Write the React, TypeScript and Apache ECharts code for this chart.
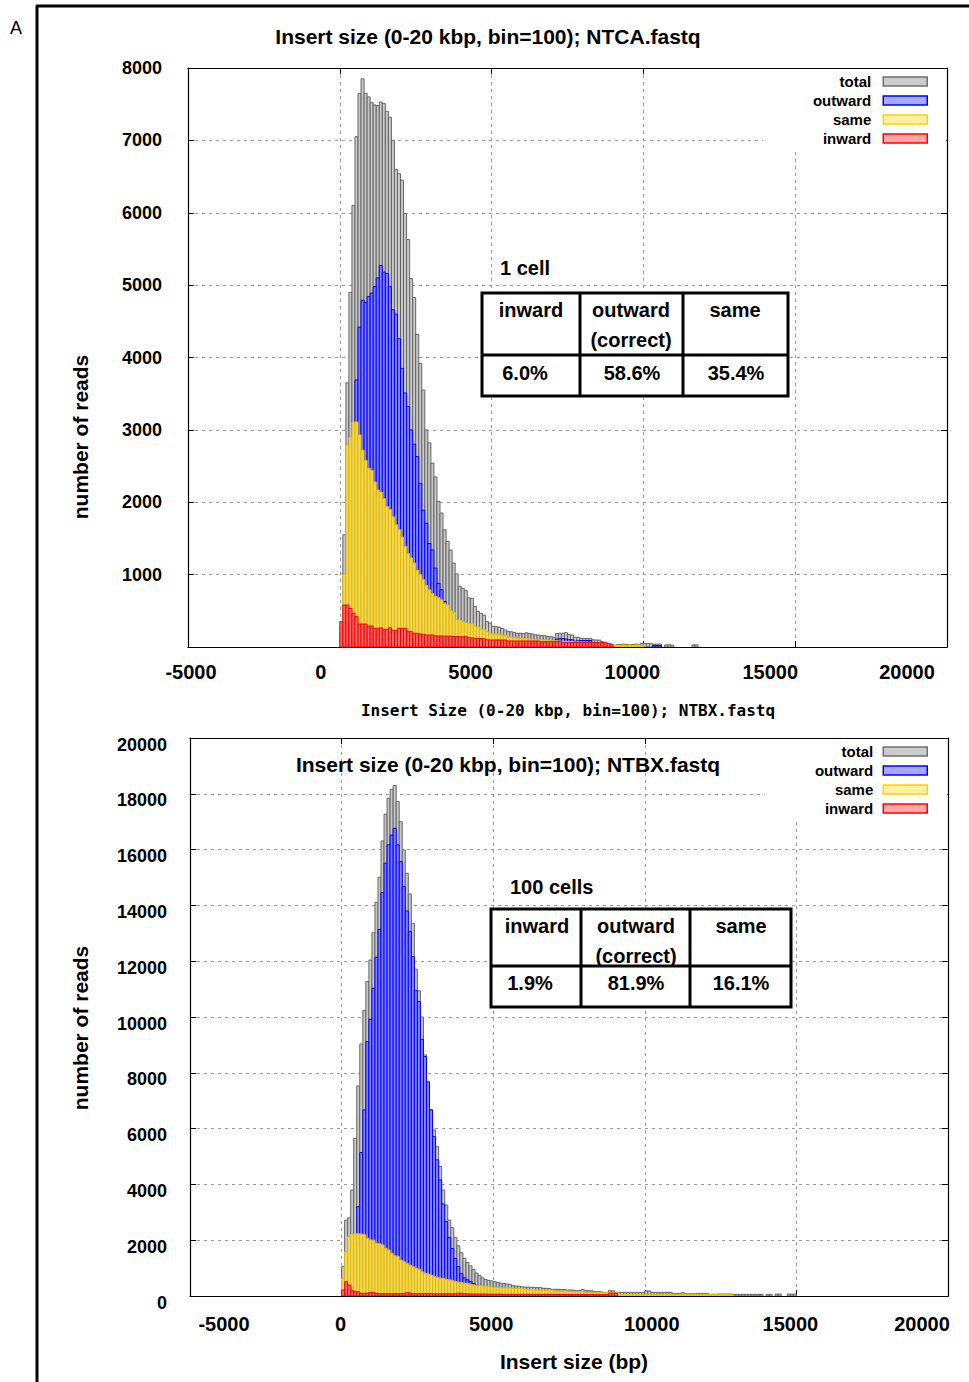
import React, { useEffect, useRef } from 'react';
import * as echarts from 'echarts';

// ---------- data ----------
const binWidth = 100;
const xTicks = [-5000, 0, 5000, 10000, 15000, 20000];
const seriesNames = ['total', 'outward', 'same', 'inward'];

// NTCA.fastq (1 cell), counts per 100 bp bin starting at 0
const totalA = [
  200, 1550, 3650, 4900, 6100, 7050, 7650, 7850, 7650, 7600,
  7520, 7490, 7480, 7530, 7510, 7400, 7320, 7000, 6600, 6540,
  6450, 5990, 5630, 5090, 4830, 4320, 3920, 3550, 3000, 2820,
  2540, 2350, 2010, 1850, 1620, 1460, 1340, 1160, 1010, 840,
  810, 780, 680, 670, 560, 490, 465, 440, 350, 330,
  285, 280, 275, 258, 235, 215, 210, 198, 190, 190,
  188, 195, 185, 180, 168, 165, 157, 155, 145, 143,
  134, 185, 190, 190, 198, 170, 166, 135, 134, 120,
  120, 118, 120, 100, 97, 95, 74, 51, 20, 25,
  20, 35, 35, 40, 35, 30, 35, 40, 35, 50,
  50, 50, 45, 40, 40, 40, 0, 30, 30, 25,
  0, 0, 0, 0, 0, 0, 30, 30, 0, 0,
];
const outwardA = [
  0, 300, 900, 1800, 2600, 3690, 4420, 4790, 4760, 4840,
  4890, 4980, 5100, 5270, 5180, 5160, 4980, 4660, 4600, 4260,
  3850, 3510, 3320, 3000, 2800, 2630, 2260, 1890, 1710, 1430,
  1340, 1090, 880, 790, 630, 500, 420, 380, 320, 290,
  250, 230, 200, 180, 150, 130, 110, 100, 90, 80,
  70, 65, 60, 55, 50, 48, 45, 42, 40, 40,
  40, 40, 40, 40, 38, 36, 35, 35, 35, 40,
  50, 110, 115, 115, 110, 100, 100, 80, 85, 90,
  90, 90, 90, 40, 40, 35, 30, 20, 0, 0,
  0, 0, 0, 0, 0, 0, 0, 0, 0, 0,
  0, 0, 0, 20, 20, 20, 0, 0, 0, 0,
];
const sameA = [
  280, 1000, 2790, 2900, 3110, 3110, 2930, 2720, 2580, 2470,
  2440, 2280, 2170, 2140, 2050, 1940, 1900, 1800, 1690, 1620,
  1520, 1390, 1290, 1230, 1160, 1060, 1000, 930, 850, 790,
  740, 700, 680, 650, 600, 580, 500, 480, 380, 370,
  350, 340, 327, 320, 285, 280, 250, 245, 212, 185,
  180, 178, 175, 166, 160, 135, 134, 130, 122, 120,
  118, 115, 108, 106, 105, 104, 98, 97, 95, 88,
  87, 86, 80, 79, 78, 77, 76, 70, 70, 69,
  69, 60, 60, 60, 60, 60, 50, 50, 25, 28,
  25, 28, 25, 28, 25, 28, 25, 25, 28, 25,
];
const inwardA = [
  350, 580, 580, 534, 465, 419, 318, 318, 318, 290,
  290, 258, 258, 265, 244, 244, 265, 230, 225, 258,
  258, 258, 212, 212, 189, 189, 180, 175, 166, 166,
  166, 155, 152, 152, 150, 150, 150, 145, 143, 143,
  140, 143, 130, 125, 120, 120, 118, 115, 100, 97,
  97, 97, 97, 97, 97, 83, 83, 83, 83, 83,
  83, 83, 83, 83, 83, 83, 74, 74, 74, 74,
  74, 74, 74, 60, 60, 60, 60, 60, 60, 60,
  60, 60, 60, 60, 60, 60, 60, 60, 50, 40,
];

// NTBX.fastq (100 cells)
const totalB = [
  1050, 2720, 2800, 3800, 5650, 7530, 9030, 10230, 11270, 12040,
  13020, 14110, 15010, 16310, 17270, 17840, 18160, 18300, 17720, 17000,
  15990, 15150, 14410, 13360, 11710, 10940, 10000, 8640, 7620, 6670,
  5950, 5350, 4640, 3800, 3260, 2720, 2450, 2100, 1800, 1550,
  1350, 1200, 1080, 950, 820, 730, 650, 590, 560, 540,
  510, 490, 460, 450, 430, 420, 370, 360, 350, 330,
  320, 320, 310, 310, 300, 300, 275, 275, 270, 240,
  240, 240, 235, 235, 215, 215, 210, 190, 190, 235,
  190, 190, 185, 155, 155, 150, 120, 120, 190, 185,
  130, 130, 130, 130, 130, 130, 130, 130, 130, 130,
  185, 180, 130, 130, 130, 130, 130, 130, 130, 95,
  95, 95, 120, 80, 80, 80, 80, 95, 95, 95,
  95, 60, 60, 60, 70, 70, 70, 70, 70, 60,
  60, 60, 60, 60, 60, 60, 60, 60, 60, 0,
  60, 60, 0, 70, 70, 0, 0, 70, 70, 70,
];
const outwardB = [
  0, 200, 400, 600, 1500, 3200, 5140, 6670, 9120, 9920,
  11030, 12140, 13140, 14460, 15510, 16170, 16520, 16760, 16170, 15570,
  14670, 13800, 13060, 12160, 10940, 10550, 9200, 8580, 7680, 6670,
  5710, 4880, 4160, 3300, 2660, 2100, 1700, 1350, 1050, 800,
  650, 580, 520, 450, 380, 330, 290, 260, 230, 200,
  180, 160, 150, 140, 130, 120, 110, 100, 90, 80,
  70, 70, 65, 60, 60, 55, 50, 50, 45, 45,
  40, 40, 40, 40, 35, 35, 35, 35, 35, 35,
  60, 60, 60, 60, 30, 30, 30, 30, 30, 30,
  20, 20, 20, 20, 20, 20, 20, 20, 20, 20,
];
const sameB = [
  630, 1590, 2130, 2220, 2230, 2230, 2220, 2200, 2070, 2010,
  2000, 1890, 1870, 1830, 1710, 1650, 1530, 1440, 1420, 1290,
  1230, 1170, 1110, 1050, 1000, 960, 870, 820, 790, 750,
  700, 670, 640, 630, 600, 580, 550, 520, 500, 480,
  460, 450, 420, 400, 380, 370, 360, 350, 340, 320,
  310, 305, 300, 295, 290, 290, 270, 270, 270, 270,
  240, 240, 240, 240, 215, 215, 215, 215, 215, 215,
  180, 180, 180, 180, 180, 155, 155, 155, 155, 155,
  120, 120, 120, 120, 120, 120, 120, 120, 120, 120,
  120, 60, 60, 60, 60, 60, 60, 60, 60, 60,
  60, 60, 60, 60, 60, 60, 60, 60, 60, 60,
  60, 60, 60, 60, 60, 60, 60, 60, 60, 60,
  60, 60, 60, 60, 60, 60, 60, 60, 60,
];
const inwardB = [
  215, 513, 394, 191, 150, 150, 96, 96, 100, 130,
  120, 90, 85, 85, 85, 85, 85, 85, 85, 85,
  85, 120, 110, 85, 85, 85, 85, 85, 85, 85,
  80, 80, 80, 80, 80, 80, 80, 80, 100, 100,
  80, 75, 75, 70, 70, 70, 70, 70, 65, 65,
  65, 65, 65, 60, 60, 60, 60, 60, 60, 60,
  60, 60, 60, 60, 60, 60, 60, 60, 60, 60,
  55, 55, 55, 55, 55, 55, 55, 55, 55, 55,
  50, 50, 50, 50, 50, 50, 50, 50, 100, 100,
  100,
];

// texts
const panelLetter = 'A';
const topTitle = 'Insert size (0-20 kbp, bin=100); NTCA.fastq';
const strayTitle = 'Insert Size (0-20 kbp, bin=100); NTBX.fastq';
const bottomTitle = 'Insert size (0-20 kbp, bin=100); NTBX.fastq';
const yName = 'number of reads';
const xName = 'Insert size (bp)';
const tableHeaders = ['inward', 'outward', 'same'];
const tableSubHeader = '(correct)';
const topCellLabel = '1 cell';
const bottomCellLabel = '100 cells';
const topPercents = ['6.0%', '58.6%', '35.4%'];
const bottomPercents = ['1.9%', '81.9%', '16.1%'];

// ---------- styles ----------
const FONT = '"Liberation Sans", Arial, sans-serif';
const barStyle: Record<string, any> = {
  total: { fill: '#c8c8c8', stroke: '#666666', lf: '#cccccc', ls: '#707070' },
  outward: { fill: '#8484ff', stroke: '#0000f4', lf: '#a8a8ff', ls: '#0000ff' },
  same: { fill: '#f2d95c', stroke: '#e2b800', lf: '#fff0a6', ls: '#ffd200' },
  inward: { fill: '#ff6a6a', stroke: '#f00000', lf: '#ffa8a8', ls: '#ff0000' },
};
const topShift = [3, -19, -21, -11, -25, -40];
const bottomShift = [34, -1, -2, 7, -6, -26];

function makeSeries(name: string, values: number[], axisIdx: number) {
  const st = barStyle[name];
  return {
    type: 'custom',
    name,
    xAxisIndex: axisIdx,
    yAxisIndex: axisIdx,
    clip: true,
    itemStyle: { color: st.lf, borderColor: st.ls },
    encode: { x: [0, 1], y: 2 },
    data: values
      .map((v, k) => [k * binWidth, (k + 1) * binWidth, v])
      .filter((d) => d[2] > 0),
    renderItem: (params: any, api: any) => {
      const a = api.coord([api.value(0), 0]);
      const b = api.coord([api.value(1), api.value(2)]);
      return {
        type: 'rect',
        shape: { x: a[0], y: b[1], width: b[0] - a[0], height: a[1] - b[1] },
        style: { fill: st.fill, stroke: st.stroke, lineWidth: 1 },
      };
    },
  };
}

function xAxes(grid: number, shifts: number[], margin: number) {
  const rich: Record<string, any> = {};
  shifts.forEach((d, i) => {
    rich['p' + i] = {
      fontSize: 20,
      fontWeight: 'bold',
      fontFamily: FONT,
      color: '#000',
      padding: d >= 0 ? [0, 0, 0, 2 * d] : [0, -2 * d, 0, 0],
    };
  });
  const base = {
    gridIndex: grid,
    type: 'value',
    min: xTicks[0],
    max: xTicks[xTicks.length - 1],
    interval: 5000,
  };
  return [
    {
      ...base,
      position: 'bottom',
      axisLine: { show: true, onZero: false, lineStyle: { color: '#000', width: 1.2 } },
      axisTick: { show: true, inside: true, length: 6, lineStyle: { color: '#000' } },
      axisLabel: {
        margin,
        formatter: (v: number) => `{p${xTicks.indexOf(v)}|${v}}`,
        rich,
      },
      splitLine: { show: true, lineStyle: { color: '#9a9a9a', type: [3, 4], width: 1 } },
    },
    {
      ...base,
      position: 'top',
      axisLine: { show: true, onZero: false, lineStyle: { color: '#000', width: 1.2 } },
      axisTick: { show: true, inside: true, length: 6, lineStyle: { color: '#000' } },
      axisLabel: { show: false },
      splitLine: { show: false },
    },
  ];
}

function yAxes(grid: number, max: number, interval: number, margin: number, hideZero: boolean, lowered: boolean) {
  const base = { gridIndex: grid, type: 'value', min: 0, max, interval };
  const extra = lowered ? { verticalAlign: 'top', lineHeight: 13 } : {};
  return [
    {
      ...base,
      position: 'left',
      axisLine: { show: true, onZero: false, lineStyle: { color: '#000', width: 1.2 } },
      axisTick: { show: true, inside: true, length: 6, lineStyle: { color: '#000' } },
      axisLabel: {
        margin,
        fontSize: 18,
        fontWeight: 'bold',
        fontFamily: FONT,
        color: '#000',
        ...extra,
        formatter: (v: number) => (hideZero && v === 0 ? '' : String(v)),
      },
      splitLine: { show: true, lineStyle: { color: '#9a9a9a', type: [3, 4], width: 1 } },
    },
    {
      ...base,
      position: 'right',
      axisLine: { show: true, onZero: false, lineStyle: { color: '#000', width: 1.2 } },
      axisTick: { show: true, inside: true, length: 6, lineStyle: { color: '#000' } },
      axisLabel: { show: false },
      splitLine: { show: false },
    },
  ];
}

function legend(right: number, top: number, padding: number[], textPadRight: number) {
  return {
    orient: 'vertical',
    right,
    top,
    align: 'right',
    icon: 'rect',
    itemWidth: 44,
    itemHeight: 9,
    itemGap: 4,
    selectedMode: false,
    backgroundColor: '#ffffff',
    padding,
    textStyle: {
      fontSize: 15,
      fontWeight: 'bold',
      fontFamily: FONT,
      color: '#000',
      padding: [0, textPadRight, 0, 0],
    },
    data: seriesNames.map((n) => ({
      name: n,
      itemStyle: { color: barStyle[n].lf, borderColor: barStyle[n].ls, borderWidth: 1.5 },
    })),
  };
}

function txt(text: string, x: number, y: number, size: number, extra: any = {}) {
  return {
    type: 'text',
    x,
    y,
    z: 100,
    rotation: extra.rotation || 0,
    style: {
      text,
      fill: '#000',
      font: `${extra.weight || 'bold'} ${size}px ${extra.family || FONT}`,
      align: extra.align || 'center',
      verticalAlign: 'middle',
    },
  };
}

function table(
  box: [number, number, number, number],
  midY: number,
  colX: [number, number],
  headerY: number,
  subY: number,
  valueY: number,
  headerXs: number[],
  valueXs: number[],
  values: string[],
  label: string,
  labelX: number,
  labelY: number,
) {
  const [x0, y0, x1, y1] = box;
  const ls = { stroke: '#000', lineWidth: 3 };
  const els: any[] = [
    { type: 'rect', z: 99, shape: { x: x0, y: y0, width: x1 - x0, height: y1 - y0 }, style: { fill: '#fff', ...ls } },
    { type: 'line', z: 99, shape: { x1: x0, y1: midY, x2: x1, y2: midY }, style: ls },
    { type: 'line', z: 99, shape: { x1: colX[0], y1: y0, x2: colX[0], y2: y1 }, style: ls },
    { type: 'line', z: 99, shape: { x1: colX[1], y1: y0, x2: colX[1], y2: y1 }, style: ls },
    txt(label, labelX, labelY, 20, { align: 'left' }),
    txt(tableSubHeader, headerXs[1], subY, 20),
  ];
  tableHeaders.forEach((h, i) => els.push(txt(h, headerXs[i], headerY, 20)));
  values.forEach((v, i) => els.push(txt(v, valueXs[i], valueY, 20)));
  return els;
}

function buildOption() {
  const graphic: any[] = [
    { type: 'line', z: 100, shape: { x1: 36, y1: 6, x2: 969, y2: 6 }, style: { stroke: '#000', lineWidth: 3 } },
    { type: 'line', z: 100, shape: { x1: 37, y1: 5, x2: 37, y2: 1382 }, style: { stroke: '#000', lineWidth: 3 } },
    txt(panelLetter, 16, 28, 18, { weight: 'normal' }),
    txt(topTitle, 488, 36, 21),
    txt(strayTitle, 568, 710, 16, { family: '"DejaVu Sans Mono", monospace' }),
    txt(bottomTitle, 508, 764, 21),
    txt(xName, 574, 1361, 21),
    txt(yName, 80, 437, 21, { rotation: Math.PI / 2 }),
    txt(yName, 80, 1028, 21, { rotation: Math.PI / 2 }),
    ...table([482, 293, 788, 396], 355, [580, 683], 310, 340, 373, [531, 631, 735], [525, 632, 736], topPercents, topCellLabel, 500, 268),
    ...table([491, 909, 791, 1007], 966, [581, 690], 926, 956, 983, [537, 636, 741], [530, 636, 741], bottomPercents, bottomCellLabel, 510, 887),
  ];

  return {
    animation: false,
    backgroundColor: '#fff',
    grid: [
      { left: 188, top: 68, width: 759, height: 579 },
      { left: 190, top: 738, width: 758, height: 558 },
    ],
    xAxis: [...xAxes(0, topShift, 15), ...xAxes(1, bottomShift, 18)],
    yAxis: [
      ...yAxes(0, 8000, 1000, 26, true, false),
      ...yAxes(1, 20000, 2000, 23, false, true),
    ],
    legend: [legend(23, 69, [5, 18, 5, 50], 7), legend(22, 739, [5, 19, 5, 50], 5)],
    series: [
      makeSeries('total', totalA, 0),
      makeSeries('outward', outwardA, 0),
      makeSeries('same', sameA, 0),
      makeSeries('inward', inwardA, 0),
      makeSeries('total', totalB, 2),
      makeSeries('outward', outwardB, 2),
      makeSeries('same', sameB, 2),
      makeSeries('inward', inwardB, 2),
    ],
    graphic,
  };
}

export default function App() {
  const ref = useRef<HTMLDivElement>(null);
  useEffect(() => {
    const chart = echarts.init(ref.current!, null, { renderer: 'svg' });
    chart.setOption(buildOption() as any);
    return () => chart.dispose();
  }, []);
  return (
    <div
      ref={ref}
      style={{ position: 'absolute', left: 0, top: 0, width: 969, height: 1382, background: '#fff' }}
    />
  );
}
